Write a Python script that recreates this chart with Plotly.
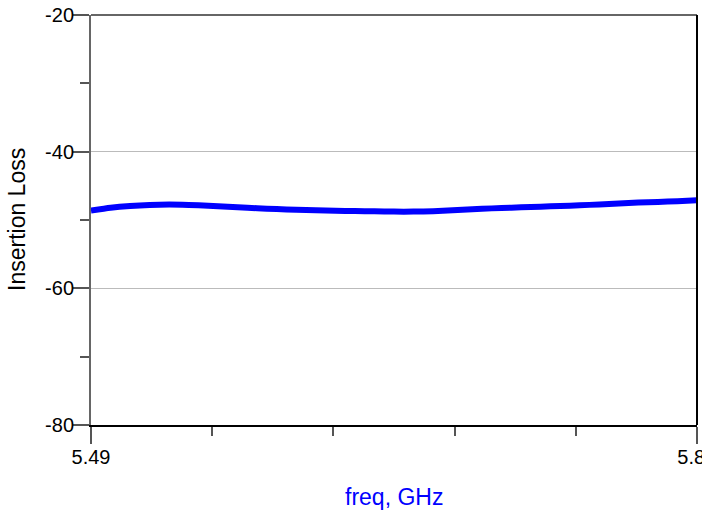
import plotly.graph_objects as go

freq_ghz = [5.49, 5.50, 5.51, 5.52, 5.53, 5.54, 5.55, 5.56, 5.57, 5.58, 5.59,
            5.60, 5.61, 5.62, 5.63, 5.64, 5.65, 5.66, 5.67, 5.68, 5.69, 5.70,
            5.71, 5.72, 5.73, 5.74, 5.75, 5.76, 5.77, 5.78, 5.79, 5.80]
insertion_loss = [-48.6, -48.2, -47.95, -47.8, -47.75, -47.8, -47.9, -48.05, -48.2,
                  -48.35, -48.45, -48.55, -48.62, -48.68, -48.72, -48.75, -48.78,
                  -48.75, -48.65, -48.5, -48.35, -48.25, -48.15, -48.05, -47.95,
                  -47.85, -47.72, -47.58, -47.45, -47.35, -47.25, -47.1]

x_range = [5.49, 5.80]
x_tick_vals = [5.49, 5.7999]
x_tick_text = ["5.49", "5.8\u00a0\u00a0"]
y_range = [-80, -20]
y_tick_vals = [-80, -60, -40, -20]
y_tick_text = ["-80", "-60", "-40", "-20"]
x_title = "freq, GHz"
y_title = "Insertion Loss"

FONT = "Liberation Sans, Arial, sans-serif"

fig = go.Figure()
fig.add_trace(go.Scatter(
    x=freq_ghz, y=insertion_loss, mode="lines",
    line=dict(color="#0000ff", width=6, shape="spline", smoothing=0.6),
    showlegend=False, hoverinfo="skip",
))

step = (x_range[1] - x_range[0]) / 5
minor_x = [x_range[0] + step * i for i in range(1, 5)]

fig.update_layout(
    width=702, height=517,
    margin=dict(l=91, r=5, t=15, b=92),
    paper_bgcolor="white", plot_bgcolor="white",
    font=dict(family=FONT, size=20, color="black"),
    xaxis=dict(
        range=x_range, tickmode="array", tickvals=x_tick_vals, ticktext=x_tick_text,
        ticks="outside", ticklen=17, tickwidth=2, tickcolor="#555555",
        showline=True, linecolor="black", linewidth=2, showgrid=False, zeroline=False,
        automargin=False, ticklabelstandoff=-4, ticklabeloverflow="allow",
        minor=dict(tickmode="array", tickvals=minor_x, ticks="outside", ticklen=9,
                   tickwidth=2, tickcolor="#555555", showgrid=False),
        tickfont=dict(size=20, family=FONT),
    ),
    yaxis=dict(
        range=y_range, tickmode="array", tickvals=y_tick_vals, ticktext=y_tick_text,
        ticks="outside", ticklen=16, tickwidth=2, tickcolor="#555555",
        showline=True, linecolor="#666666", linewidth=2,
        showgrid=True, gridcolor="#bbbbbb", gridwidth=1, zeroline=False,
        automargin=False, ticklabelstandoff=-5, ticklabeloverflow="allow",
        minor=dict(dtick=10, tick0=-80, ticks="outside", ticklen=9, tickwidth=2,
                   tickcolor="#555555", showgrid=False),
        tickfont=dict(size=20, family=FONT),
    ),
    shapes=[
        dict(type="line", xref="paper", yref="paper", x0=0, x1=1, y0=1, y1=1,
             line=dict(color="#666666", width=2)),
        dict(type="line", xref="paper", yref="paper", x0=1, x1=1, y0=0, y1=1,
             line=dict(color="black", width=2)),
    ],
    annotations=[
        dict(text=x_title, xref="paper", yref="paper", x=0.5, y=0,
             xanchor="center", yanchor="middle", yshift=-72, showarrow=False,
             font=dict(size=23, color="#0000ff", family=FONT)),
        dict(text=y_title, xref="paper", yref="paper", x=0, y=0.5,
             xanchor="center", yanchor="middle", xshift=-74, textangle=-90,
             showarrow=False, font=dict(size=23, color="black", family=FONT)),
    ],
)

fig.write_html(
    "out.html",
    config={"displayModeBar": False},
    post_script="document.body.style.margin='0';document.body.style.overflow='hidden';",
)
